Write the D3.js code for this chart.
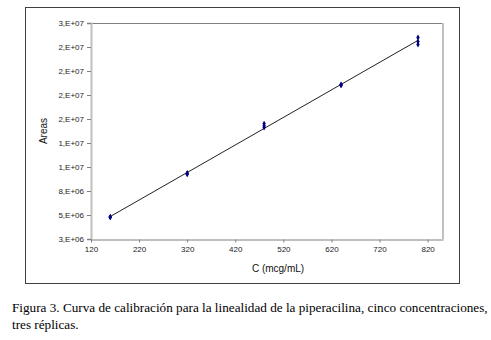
<!DOCTYPE html>
<html>
<head>
<meta charset="utf-8">
<script src="https://cdn.jsdelivr.net/npm/d3@7"></script>
<style>
  body { margin: 0; background: #fff; }
  svg text { font-family: "Liberation Sans", Arial, sans-serif; }
  .caption { font-family: "Liberation Serif", "Times New Roman", serif; }
</style>
</head>
<body>
<div id="chart"></div>
<script>
// concentration (mcg/mL), three replicates each
const conc = [160, 160, 160, 320, 320, 320, 480, 480, 480, 640, 640, 640, 800, 800, 800];
const areas = [5.27e6, 5.29e6, 5.31e6, 9.74e6, 9.8e6, 9.88e6, 14.62e6, 14.8e6, 15.02e6,
               19.0e6, 19.06e6, 19.1e6, 23.26e6, 23.57e6, 23.99e6];

const xTicks = [120, 220, 320, 420, 520, 620, 720, 820];
const yTicks = [3e6, 5.5e6, 8e6, 10.5e6, 13e6, 15.5e6, 18e6, 20.5e6, 23e6, 25.5e6];
const yTickLabels = ['3,E+06', '5,E+06', '8,E+06', '1,E+07', '1,E+07', '2,E+07', '2,E+07', '2,E+07', '2,E+07', '3,E+07'];

const captionLines = [
    'Figura 3. Curva de calibración para la linealidad de la piperacilina, cinco concentraciones,',
    'tres réplicas.'
];

const width = 491, height = 340;
const margin = {top: 23, right: 48, bottom: 101, left: 91};

const svg = d3.select('#chart').append('svg')
    .attr('width', width)
    .attr('height', height);

// outer chart frame
svg.append('rect')
    .attr('x', 25.5).attr('y', 7.5)
    .attr('width', 434).attr('height', 276)
    .attr('fill', 'none')
    .attr('stroke', '#404040')
    .attr('stroke-width', 1);

const x = d3.scaleLinear().domain([120, 852]).range([margin.left, width - margin.right]);
const y = d3.scaleLinear().domain([3e6, 25.5e6]).range([height - margin.bottom, margin.top]);

// plot area border
svg.append('line')
    .attr('x1', x(120)).attr('x2', x(852))
    .attr('y1', y(25.5e6) + 0.5).attr('y2', y(25.5e6) + 0.5)
    .attr('stroke', '#808080');
svg.append('line')
    .attr('x1', x(852)).attr('x2', x(852))
    .attr('y1', y(25.5e6)).attr('y2', y(3e6))
    .attr('stroke', '#c0c0c0').attr('stroke-width', 2);

// y axis
const yAxis = svg.append('g')
    .attr('transform', 'translate(' + x(120) + ',0)')
    .call(d3.axisLeft(y).tickValues(yTicks).tickSize(4).tickPadding(3)
        .tickFormat((d, i) => yTickLabels[i]));
yAxis.select('.domain').attr('stroke', '#c0c0c0').attr('stroke-width', 2);
yAxis.selectAll('.tick line').attr('stroke', '#808080');
yAxis.selectAll('text').attr('font-size', 8).attr('fill', '#222');

// x axis
const xAxis = svg.append('g')
    .attr('transform', 'translate(0,' + (y(3e6) + 0.5) + ')')
    .call(d3.axisBottom(x).tickValues(xTicks).tickSize(3).tickPadding(4).tickSizeOuter(0));
xAxis.select('.domain').attr('stroke', '#808080');
xAxis.selectAll('.tick line').attr('stroke', '#808080');
xAxis.selectAll('text').attr('font-size', 8).attr('fill', '#222');

// axis titles
svg.append('text')
    .attr('transform', 'translate(47,' + ((margin.top + height - margin.bottom) / 2) + ') rotate(-90)')
    .attr('text-anchor', 'middle')
    .attr('font-size', 10)
    .attr('fill', '#111')
    .text('Areas');
svg.append('text')
    .attr('x', 278).attr('y', 272)
    .attr('text-anchor', 'middle')
    .attr('font-size', 10)
    .attr('fill', '#111')
    .text('C (mcg/mL)');

// linear trendline (least squares)
const mx = d3.mean(conc), my = d3.mean(areas);
const slope = d3.sum(conc, (c, i) => (c - mx) * (areas[i] - my)) / d3.sum(conc, c => (c - mx) * (c - mx));
const intercept = my - slope * mx;
const xr = d3.extent(conc);
svg.append('line')
    .attr('x1', x(xr[0])).attr('y1', y(intercept + slope * xr[0]))
    .attr('x2', x(xr[1])).attr('y2', y(intercept + slope * xr[1]))
    .attr('stroke', '#222')
    .attr('stroke-width', 1);

// data points (diamonds)
svg.append('g').selectAll('path')
    .data(conc)
    .enter()
    .append('path')
    .attr('d', d3.symbol().type(d3.symbolDiamond).size(10))
    .attr('transform', (d, i) => 'translate(' + x(d) + ',' + y(areas[i]) + ')')
    .attr('fill', '#000080');

// caption
svg.append('g').selectAll('text')
    .data(captionLines)
    .enter()
    .append('text')
    .attr('class', 'caption')
    .attr('x', 12)
    .attr('y', (d, i) => 312 + i * 17)
    .attr('font-size', 13.2)
    .attr('fill', '#000')
    .text(d => d);
</script>
</body>
</html>
